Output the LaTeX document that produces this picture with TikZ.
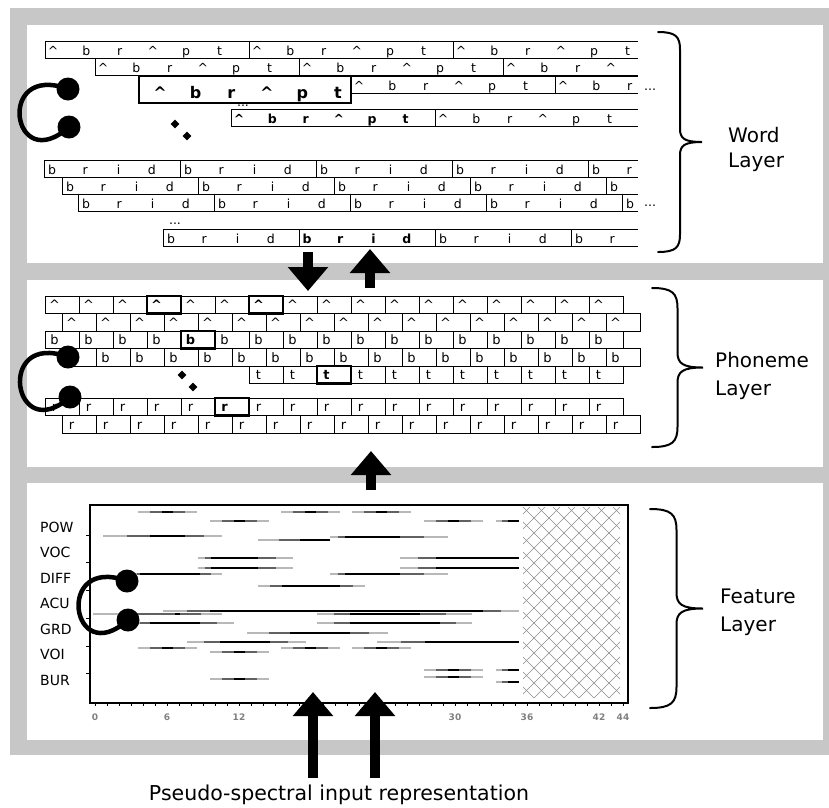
\documentclass[tikz,border=0pt]{standalone}
\usepackage{fontspec}
\setmainfont{DejaVu Sans}
\usetikzlibrary{arrows.meta,shapes.geometric}

\newcommand{\crt}{\textasciicircum}
\newcommand{\wfont}{\fontsize{12.5}{12.5}\selectfont}
\newcommand{\bfont}{\fontsize{16}{16}\selectfont\bfseries}
\newcommand{\pfont}{\fontsize{13}{13}\selectfont}
\newcommand{\lfont}{\fontsize{20}{20}\selectfont}

\tikzset{
  cell/.style={line width=1pt},
  wl/.style={font=\wfont,inner sep=0pt,anchor=base},
  pl/.style={font=\pfont,inner sep=0pt,anchor=base},
  hl/.style={line width=2.5pt},
  ball/.style={circle,fill,inner sep=0pt,minimum size=23pt},
  hook/.style={line width=4.5pt},
  dot/.style={diamond,fill,inner sep=0pt,minimum size=9pt},
  blockarrow/.style={line width=10pt,-{Triangle[width=39pt,length=24pt]}},
  bracestyle/.style={line width=2pt,line cap=round},
  lbl/.style={font=\lfont,inner sep=0pt,anchor=base west},
  flab/.style={font=\fontsize{14}{14}\selectfont,inner sep=0pt,anchor=west},
  tlab/.style={font=\fontsize{9}{9}\selectfont\bfseries,text=black!50,inner sep=0pt},
  fl/.style={line width=2pt,black!28},
  fm/.style={line width=2.4pt,black!62},
  fd/.style={line width=2.8pt,black},
  hatch/.style={line width=0.6pt,black!45},
}

% one row of repeated words: id, start x, top y, letters per word, letters, bold word
\newcommand{\wrow}[6]{%
  \draw[cell] (#2,#3) -- (638,#3) (#2,#3+17) -- (638,#3+17);
  \foreach \k in {0,...,4}{%
    \pgfmathsetmacro\wx{#2+\k*34*#4}%
    \ifdim\wx pt<636pt
      \draw[cell] (\wx,#3) -- (\wx,#3+17);
    \fi
    \foreach \l [count=\i from 0] in {#5}{%
      \pgfmathsetmacro\lx{\wx+8+33.3*\i}%
      \ifdim\lx pt<634pt
        \ifnum\k=#6
          \node[wl,font=\wfont\bfseries] (w#1-\k-\i) at (\lx,#3+14.5) {\l};
        \else
          \node[wl] (w#1-\k-\i) at (\lx,#3+14.5) {\l};
        \fi
      \fi
    }
  }
}

% one row of phoneme cells: id, start x, top y, cells, letter, highlighted cells
\newcommand{\prow}[6]{%
  \draw[cell] (#2,#3) rectangle ({#2+34*#4},#3+17.5);
  \foreach \c in {1,...,#4}{\draw[cell] ({#2+34*\c},#3) -- ({#2+34*\c},#3+17.5);}
  \pgfmathtruncatemacro\plast{#4-1}
  \foreach \c in {0,...,\plast}{\node[pl] (p#1-\c) at ({#2+34*\c+9.5},#3+13.5) {#5};}
  \foreach \h in {#6}{%
    \ifnum\h>-1
      \draw[hl,fill=white] ({#2+34*\h},#3) rectangle ({#2+34*\h+34},#3+17.5);
      \node[pl,font=\pfont\bfseries] (p#1h\h) at ({#2+34*\h+9.5},#3+13.5) {#5};
    \fi
  }
}

% feature trace: light start, dark start, dark end, light end, y
\newcommand{\fbar}[5]{%
  \draw[fl] (#1,#5) -- (#4,#5);
  \draw[fm] ({(#1+#2)/2},#5) -- ({(#3+#4)/2},#5);
  \draw[fd] (#2,#5) -- (#3,#5);
}
\newcommand{\pbar}[2]{\fbar{#1-30}{#1-6}{#1+5}{#1+29}{#2}}

% curly brace: x, top y, bottom y, amplitude
\newcommand{\layerbrace}[4]{%
  \pgfmathsetmacro\bm{(#2+#3)/2}%
  \draw[bracestyle] (#1,#2) .. controls ({#1+0.4*#4},#2) and ({#1+0.5*#4},{#2+0.1*#4}) .. ({#1+0.5*#4},{#2+0.4*#4})
    -- ({#1+0.5*#4},{\bm-0.3*#4}) .. controls ({#1+0.5*#4},{\bm-0.08*#4}) and ({#1+0.6*#4},\bm) .. ({#1+#4},\bm)
    .. controls ({#1+0.6*#4},\bm) and ({#1+0.5*#4},{\bm+0.08*#4}) .. ({#1+0.5*#4},{\bm+0.3*#4})
    -- ({#1+0.5*#4},{#3-0.4*#4}) .. controls ({#1+0.5*#4},{#3-0.1*#4}) and ({#1+0.4*#4},#3) .. (#1,#3);
}

\begin{document}
\begin{tikzpicture}[x=1pt,y=-1pt]
  \useasboundingbox (0,0) rectangle (829,807);
  %frame and panels
  \fill[black!22] (10,8) rectangle (829,755);
  \fill[white] (27,25) rectangle (823,263);
  \fill[white] (27,280) rectangle (823,467);
  \fill[white] (27,483) rectangle (823,740);

  %word layer
  \wrow{1}{45}{41}{6}{\crt,b,r,\crt,p,t}{-1}
  \wrow{2}{95}{58}{6}{\crt,b,r,\crt,p,t}{-1}
  \wrow{3}{351}{76}{6}{\crt,b,r,\crt,p,t}{-1}
  \node[wl] (dotsA) at (243,106) {...};
  \wrow{4}{231}{109}{6}{\crt,b,r,\crt,p,t}{0}
  \wrow{5}{44}{160}{4}{b,r,i,d}{-1}
  \wrow{6}{62}{177}{4}{b,r,i,d}{-1}
  \wrow{7}{78}{194}{4}{b,r,i,d}{-1}
  \wrow{8}{163}{229}{4}{b,r,i,d}{1}
  \draw[hl,fill=white] (139,76) rectangle (351,103);
  \foreach \l [count=\i from 0] in {\crt,b,r,\crt,p,t}
    \node[wl,font=\bfont] (box\i) at ({160+35.6*\i},98) {\l};
  \node[wl] (dotsB) at (650,90) {...};
  \node[wl] (dotsC) at (650,206) {...};
  \node[wl] (dotsD) at (175,224) {...};
  \node[dot] (wdA) at (175,124) {};
  \node[dot] (wdB) at (187,136) {};
  \node[ball] (wa) at (68,89) {};
  \node[ball] (wb) at (69,127) {};
  \draw[hook] (wa.center) .. controls +(-73,-27) and +(-57,51) .. (wb.center);
  \layerbrace{658}{32}{252}{44}
  \node[lbl] (wordA) at (728,142) {Word};
  \node[lbl] (wordB) at (728,167) {Layer};

  %phoneme layer
  \prow{1}{45}{296}{17}{\crt}{3,6}
  \prow{2}{62}{313.5}{17}{\crt}{-1}
  \prow{3}{45}{331}{17}{b}{4}
  \prow{4}{62}{348.5}{17}{b}{-1}
  \prow{5}{249}{366}{11}{t}{2}
  \prow{6}{45}{398}{17}{r}{5}
  \prow{7}{62}{415.5}{17}{r}{-1}
  \node[dot] (pdA) at (182,375) {};
  \node[dot] (pdB) at (193,387) {};
  \node[ball] (pa) at (68,357) {};
  \node[ball] (pb) at (70,397) {};
  \draw[hook] (pa.center) .. controls +(-73,-27) and +(-57,51) .. (pb.center);
  \layerbrace{652}{288}{447}{51}
  \node[lbl] (phonA) at (715,367) {Phoneme};
  \node[lbl] (phonB) at (715,395) {Layer};

  %feature layer
  \begin{scope}
    \clip (523,507) rectangle (620,698);
    \foreach \c in {-210,-195,...,105} {
      \draw[hatch] ({523+\c},507) -- ({523+\c+191},698);
      \draw[hatch] ({620-\c},507) -- ({620-\c-191},698);
    }
  \end{scope}
  %traces
  \pbar{168}{512} \pbar{311}{512} \pbar{382}{512}
  \pbar{240}{521} \pbar{454}{521} \fbar{496}{508}{519}{519}{521}
  \fbar{103}{150}{185}{222}{536}
  \fbar{258}{300}{330}{330}{540}
  \fbar{330}{345}{400}{448}{537}
  \fbar{198}{211}{258}{293}{558} \fbar{400}{436}{519}{519}{558}
  \fbar{198}{211}{258}{293}{568} \fbar{400}{436}{519}{519}{568}
  \fbar{133}{140}{200}{222}{574} \fbar{330}{345}{400}{448}{574}
  \fbar{258}{282}{340}{365}{586}
  \fbar{163}{210}{483}{519}{611}
  \fbar{93}{175}{180}{222}{614} \fbar{317}{350}{420}{472}{614}
  \fbar{130}{150}{200}{234}{623} \fbar{317}{350}{440}{472}{623}
  \fbar{247}{290}{350}{388}{633}
  \fbar{187}{220}{270}{306}{642} \fbar{377}{425}{519}{519}{642}
  \pbar{168}{648} \pbar{311}{648} \pbar{382}{648}
  \pbar{240}{652}
  \pbar{240}{679}
  \pbar{454}{670} \fbar{496}{508}{519}{519}{670}
  \pbar{454}{677} \fbar{496}{508}{519}{519}{682}
  %axes
  \draw[line width=1.3pt] (90,505) rectangle (628,703);
  \foreach \y in {535,562,590,618,646,673}
    \draw[line width=1pt] (86,\y) -- (90,\y);
  \foreach \u in {0,...,44}
    \draw[line width=0.8pt] ({95+12*\u},703) -- ({95+12*\u},706);
  \foreach \u in {0,6,12,30,36,42,44}
    \node[tlab] (t\u) at ({95+12*\u},717) {\u};
  \foreach \f [count=\i from 0] in {POW,VOC,DIFF,ACU,GRD,VOI,BUR}
    \node[flab] (f\f) at (40,{527+25.5*\i}) {\f};
  \node[ball] (fa) at (127,581) {};
  \node[ball] (fb) at (128,620) {};
  \draw[hook] (fa.center) .. controls +(-73,-27) and +(-57,51) .. (fb.center);
  \layerbrace{650}{509}{708}{53}
  \node[lbl] (featA) at (720,603) {Feature};
  \node[lbl] (featB) at (720,631) {Layer};

  %arrows between layers
  \coordinate (wd1) at (308,252);
  \coordinate (wd2) at (308,291);
  \coordinate (pu1) at (370,288);
  \coordinate (pu2) at (370,249);
  \coordinate (fu1) at (371,490);
  \coordinate (fu2) at (371,451);
  \coordinate (inA1) at (313,778);
  \coordinate (inA2) at (313,692);
  \coordinate (inB1) at (375,778);
  \coordinate (inB2) at (375,692);
  \draw[blockarrow] (wd1) -- (wd2);
  \draw[blockarrow] (pu1) -- (pu2);
  \draw[blockarrow] (fu1) -- (fu2);
  \draw[blockarrow] (inA1) -- (inA2);
  \draw[blockarrow] (inB1) -- (inB2);
  \node[font=\fontsize{20.5}{20.5}\selectfont,inner sep=0pt,anchor=base] (cap) at (339,800) {Pseudo-spectral input representation};
\end{tikzpicture}
\end{document}
